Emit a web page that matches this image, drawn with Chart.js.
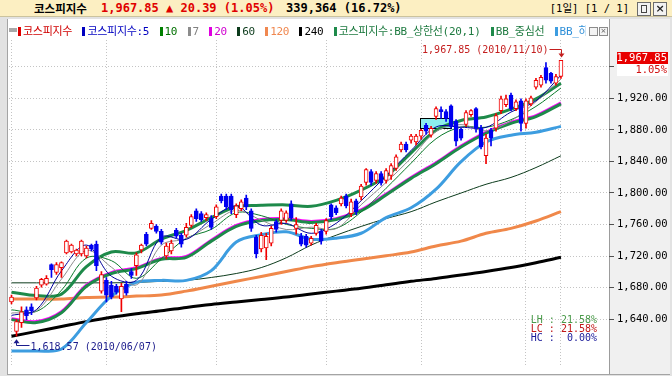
<!DOCTYPE html>
<html lang="ko">
<head>
<meta charset="utf-8">
<title>코스피지수</title>
<script src="https://cdn.jsdelivr.net/npm/chart.js@4.4.1/dist/chart.umd.min.js"></script>
<style>
  html, body { margin: 0; padding: 0; }
  body { width: 672px; height: 376px; position: relative; overflow: hidden; background: #e2e2e2; font-family: "Noto Sans CJK KR", sans-serif; }
  .abs { position: absolute; }
  #titlebar { left: 0; top: 0; width: 672px; height: 16px; background: #fcefc2; border-bottom: 1px solid #cbc39e; }
  #titlebar .t { position: absolute; top: 0; line-height: 16px; white-space: nowrap; }
  .mono { font-family: "DejaVu Sans Mono", monospace; }
  #panel { left: 7px; top: 19px; width: 602px; height: 355px; background: #fff; border-left: 1px solid #a4a4a4; box-sizing: border-box; }
  #axispanel { left: 609px; top: 19px; width: 61px; height: 355px; background: #f0f0f0; border-left: 1px solid #9c9c9c; box-sizing: border-box; }
  #bottomline { left: 7px; top: 374px; width: 663px; height: 1px; background: #a4a4a4; }
  #chart { left: 0; top: 0; }
  #legend { left: 18px; top: 24px; width: 568px; height: 15px; overflow: hidden; white-space: nowrap; font-size: 11px; line-height: 15px; font-family: "DejaVu Sans Mono", "Noto Sans CJK KR", monospace; letter-spacing: -0.3px; }
  #legend span { margin-right: 4px; }
  #legend i { display: inline-block; width: 3px; height: 9px; margin-right: 2px; vertical-align: -1px; }
  #handle { left: 9px; top: 28px; width: 8px; height: 4px; background: #a8a8a8; }
  .ico { width: 7px; height: 7px; border: 1px solid #8c8c8c; background: #f4f4f4; }
  .btn { position: absolute; top: 2px; width: 12px; height: 12px; border: 1px solid #6c6c6c; background: #f2f2f2; z-index: 2; }
</style>
</head>
<body>
<div id="titlebar" class="abs">
  <span class="t" style="left:34px;font-size:11.5px;font-weight:bold;color:#000;">코스피지수</span>
  <span class="t mono" style="left:101px;font-size:12px;font-weight:bold;color:#e00000;">1,967.85 ▲ 20.39 (1.05%)</span>
  <span class="t mono" style="left:286px;font-size:12px;font-weight:bold;color:#000;">339,364 (16.72%)</span>
  <span class="t mono" style="right:43px;font-size:10.5px;color:#000;">[1<span style="font-family:'Noto Sans CJK KR';">일</span>] [1 / 1]</span>
  <div class="btn" style="left:637px;"><div class="abs" style="left:3px;top:2px;width:4px;height:6px;border:1px solid #444;"></div></div>
  <div class="btn" style="left:653px;font:bold 11px 'DejaVu Sans';line-height:12px;text-align:center;color:#222;">×</div>
</div>
<div id="panel" class="abs"></div>
<div id="axispanel" class="abs"></div>
<div id="bottomline" class="abs"></div>
<canvas id="chart" class="abs" width="672" height="376"></canvas>
<div id="handle" class="abs"></div>
<div id="legend" class="abs">
  <span><i style="background:#e00000"></i><b style="font-weight:normal;color:#d00000">코스피지수</b></span>
  <span><i style="background:#0000c0"></i><b style="font-weight:normal;color:#0000c0">코스피지수:5</b></span>
  <span><i style="background:#008000"></i><b style="font-weight:normal;color:#007000">10</b></span>
  <span><i style="background:#8c8c8c"></i><b style="font-weight:normal;color:#808080">7</b></span>
  <span><i style="background:#e000e0"></i><b style="font-weight:normal;color:#d000d0">20</b></span>
  <span><i style="background:#0c3b1c"></i><b style="font-weight:normal;color:#0c3b1c">60</b></span>
  <span><i style="background:#f08850"></i><b style="font-weight:normal;color:#f08850">120</b></span>
  <span><i style="background:#000"></i><b style="font-weight:normal;color:#000">240</b></span>
  <span><i style="background:#1e8a4a"></i><b style="font-weight:normal;color:#1e7a40">코스피지수:BB_상한선(20,1)</b></span>
  <span><i style="background:#1e8a4a"></i><b style="font-weight:normal;color:#1e7a40">BB_중심선</b></span>
  <span><i style="background:#3d9de0"></i><b style="font-weight:normal;color:#2f8fd8">BB_하한선</b></span>
</div>
<div class="abs ico" style="left:589px;top:27px;"></div>
<div class="abs ico" style="left:599px;top:27px;font:7px 'DejaVu Sans';line-height:7px;text-align:center;color:#555;">×</div>
<script>
// daily candles, 2010/06/04 .. 2010/11/10
const opens = [1662.0, 1624.7, 1635.9, 1652.1, 1655.8, 1667.0, 1683.1, 1684.4, 1709.2, 1699.3,
  1705.5, 1724.1, 1725.3, 1722.9, 1722.9, 1720.4, 1734.0, 1735.3, 1675.7, 1689.3,
  1683.1, 1681.9, 1665.7, 1684.3, 1700.5, 1708.0, 1727.8, 1747.7, 1755.2, 1757.6,
  1751.4, 1720.4, 1726.6, 1752.7, 1746.5, 1746.5, 1758.9, 1777.5, 1773.8, 1768.8,
  1767.6, 1770.0, 1796.1, 1796.1, 1796.1, 1772.5, 1780.0, 1793.6, 1777.5, 1744.0,
  1729.1, 1730.3, 1736.5, 1763.9, 1765.1, 1765.1, 1786.2, 1755.2, 1745.2, 1745.2,
  1736.5, 1748.9, 1751.4, 1751.4, 1785.0, 1781.2, 1786.2, 1796.1, 1773.8, 1789.9,
  1794.9, 1813.5, 1827.2, 1816.0, 1824.7, 1816.0, 1822.2, 1831.0, 1854.5, 1862.0,
  1867.0, 1864.5, 1871.9, 1885.6, 1873.2, 1896.8, 1905.5, 1903.0, 1910.4, 1890.6,
  1880.6, 1886.8, 1899.2, 1906.7, 1881.9, 1847.1, 1879.4, 1881.9, 1904.2, 1911.7,
  1924.1, 1906.7, 1916.6, 1888.1, 1912.9, 1934.0, 1936.5, 1958.9, 1951.4, 1939.0, 1947.5];
const highs = [1670.7, 1639.6, 1655.8, 1655.8, 1659.5, 1681.9, 1691.8, 1695.5, 1710.4, 1711.7,
  1712.9, 1740.3, 1735.3, 1729.1, 1740.3, 1732.8, 1735.3, 1739.0, 1700.5, 1693.0,
  1688.1, 1684.3, 1685.6, 1688.1, 1704.2, 1724.1, 1735.3, 1750.2, 1765.1, 1760.1,
  1753.9, 1736.5, 1740.3, 1755.2, 1749.0, 1761.4, 1772.5, 1780.0, 1776.3, 1775.0,
  1771.3, 1785.0, 1798.6, 1798.6, 1798.6, 1786.2, 1791.2, 1797.4, 1780.0, 1746.5,
  1750.2, 1749.0, 1757.6, 1766.3, 1780.0, 1777.5, 1790.0, 1768.8, 1749.0, 1747.7,
  1745.2, 1761.4, 1753.9, 1767.6, 1786.2, 1783.7, 1796.1, 1798.6, 1792.4, 1792.4,
  1811.0, 1830.9, 1829.7, 1827.2, 1827.2, 1830.9, 1837.1, 1848.3, 1864.5, 1864.5,
  1874.4, 1874.4, 1880.6, 1888.1, 1884.3, 1909.2, 1909.2, 1905.5, 1911.7, 1893.0,
  1881.9, 1904.2, 1905.5, 1908.0, 1885.6, 1874.4, 1881.9, 1900.5, 1922.8, 1924.1,
  1926.6, 1917.9, 1919.1, 1919.1, 1922.8, 1945.2, 1949.0, 1965.0, 1952.7, 1950.2, 1967.85];
const lows = [1659.5, 1618.57, 1629.7, 1639.6, 1645.8, 1664.5, 1680.6, 1683.1, 1693.0, 1696.8,
  1693.0, 1722.9, 1724.1, 1720.4, 1720.4, 1717.9, 1726.6, 1701.7, 1673.2, 1662.0,
  1665.7, 1671.9, 1649.6, 1670.7, 1691.8, 1695.5, 1724.1, 1732.8, 1753.9, 1749.0,
  1735.3, 1716.6, 1722.9, 1742.7, 1731.5, 1744.0, 1756.4, 1763.9, 1763.9, 1765.1,
  1753.9, 1767.6, 1787.4, 1778.8, 1773.8, 1768.8, 1777.5, 1778.8, 1751.4, 1717.9,
  1725.3, 1715.4, 1732.8, 1750.2, 1760.1, 1762.6, 1765.1, 1747.7, 1732.8, 1731.5,
  1734.0, 1746.5, 1735.3, 1747.7, 1766.3, 1772.5, 1783.7, 1781.2, 1770.0, 1772.5,
  1791.2, 1809.8, 1809.8, 1812.3, 1809.8, 1812.3, 1817.2, 1828.4, 1852.1, 1852.1,
  1863.2, 1860.8, 1868.2, 1874.4, 1870.7, 1893.0, 1894.3, 1890.6, 1881.9, 1859.5,
  1866.9, 1884.3, 1896.8, 1876.9, 1855.8, 1837.1, 1859.5, 1878.1, 1900.5, 1909.2,
  1904.2, 1904.2, 1878.1, 1881.9, 1910.4, 1931.5, 1934.0, 1939.0, 1939.0, 1936.5, 1945.2];
const closes = [1668.2, 1637.1, 1649.6, 1644.6, 1650.8, 1679.4, 1690.6, 1691.8, 1703.0, 1709.2,
  1711.7, 1739.0, 1734.0, 1727.8, 1739.0, 1730.3, 1729.1, 1708.0, 1696.8, 1670.7,
  1668.2, 1674.4, 1681.9, 1673.2, 1695.5, 1721.6, 1734.0, 1735.3, 1761.4, 1751.4,
  1737.8, 1732.8, 1736.5, 1745.2, 1735.3, 1756.4, 1770.0, 1767.6, 1766.3, 1772.5,
  1756.4, 1782.5, 1789.9, 1782.5, 1778.8, 1783.7, 1788.7, 1782.5, 1755.2, 1722.9,
  1746.5, 1745.2, 1755.2, 1753.9, 1777.5, 1775.0, 1768.8, 1760.1, 1735.3, 1734.0,
  1742.7, 1758.9, 1739.0, 1765.1, 1770.0, 1775.0, 1793.6, 1783.7, 1788.7, 1776.3,
  1808.6, 1829.7, 1813.5, 1824.7, 1812.3, 1828.4, 1834.6, 1845.8, 1862.0, 1854.5,
  1871.9, 1871.9, 1879.4, 1878.1, 1881.9, 1906.7, 1903.0, 1894.3, 1884.3, 1865.7,
  1869.4, 1901.7, 1904.2, 1881.9, 1858.3, 1869.4, 1869.4, 1898.0, 1919.1, 1919.1,
  1906.7, 1915.4, 1888.1, 1916.6, 1920.4, 1942.7, 1946.5, 1942.7, 1941.5, 1947.46, 1967.85];

// indicator lines, read every 5th session
const lineIdx = [0, 5, 10, 15, 20, 25, 30, 35, 40, 45, 50, 55, 60, 65, 70, 75, 80, 85, 90, 95, 100, 105, 110];
const ma5 = [1645, 1652.3, 1701.3, 1734.0, 1694.6, 1689.3, 1744.0, 1741.2, 1766.6, 1783.5, 1759.2, 1761.4,
  1748.9, 1761.6, 1790.2, 1821.7, 1853.8, 1883.6, 1883.3, 1883.1, 1902.5, 1916.6, 1949.2];
const ma7 = [1648, 1651, 1690.9, 1727.3, 1706.0, 1683.6, 1733.9, 1742.2, 1760.6, 1778.0, 1765.5, 1753.7,
  1756.7, 1754.9, 1785.1, 1813.4, 1844.2, 1877.8, 1886.5, 1878.7, 1891.4, 1915.6, 1944.2];
const ma10 = [1652, 1650, 1676.8, 1717.6, 1714.3, 1691.9, 1716.7, 1742.6, 1753.9, 1775.0, 1771.3, 1760.3,
  1755.2, 1755.3, 1775.9, 1806.0, 1837.7, 1868.7, 1883.5, 1883.2, 1892.8, 1909.6, 1932.9];
const ma20 = [1640.8, 1637.1, 1649.5, 1683.1, 1699.2, 1705.4, 1717.2, 1719.7, 1740.2, 1758.8, 1766.3, 1767.5,
  1763.8, 1767.5, 1778.7, 1798.6, 1819.7, 1838.3, 1859.4, 1876.8, 1889.3, 1898.0, 1914.1];
const ma60 = [1686.2, 1686.2, 1686.2, 1686.2, 1686.2, 1686.8, 1688.1, 1689.3, 1693.0, 1698.0, 1705.5, 1717.9,
  1734.0, 1746.5, 1757.6, 1767.6, 1776.3, 1788.7, 1799.9, 1811.0, 1819.7, 1832.2, 1847.1];
const ma120 = [1665.7, 1665.7, 1665.7, 1667.6, 1668.2, 1669.4, 1670.7, 1675.7, 1681.9, 1688.1, 1694.3, 1700.5,
  1706.7, 1711.7, 1716.0, 1720.4, 1725.3, 1732.8, 1739.0, 1748.9, 1755.2, 1764.5, 1776.3];
const ma240 = [1618.5, 1624.7, 1630.9, 1637.1, 1642.7, 1647.1, 1650.8, 1655.1, 1658.9, 1662.0, 1665.1, 1668.2,
  1672.0, 1675.7, 1679.4, 1683.7, 1688.1, 1691.8, 1696.2, 1700.5, 1705.5, 1711.7, 1718.5];
const bbUpper = [1674.4, 1670.1, 1671.9, 1706.7, 1725.3, 1724.1, 1741.5, 1752.7, 1768.8, 1782.5, 1784.3, 1784.9,
  1783.1, 1790.6, 1803.6, 1821.0, 1850.8, 1879.4, 1891.8, 1896.2, 1906.1, 1919.1, 1939.0];
const bbMiddle = [1639.6, 1635.9, 1648.3, 1681.9, 1698.0, 1704.2, 1716.0, 1718.5, 1739.0, 1757.6, 1765.1, 1766.3,
  1762.6, 1766.3, 1777.5, 1797.4, 1818.5, 1837.1, 1858.2, 1875.6, 1888.1, 1896.8, 1912.9];
const bbLower = [1599.9, 1599.9, 1602.4, 1635.9, 1669.4, 1686.8, 1689.3, 1689.3, 1701.7, 1737.8, 1747.1, 1750.8,
  1741.5, 1742.7, 1749.0, 1768.8, 1781.2, 1804.8, 1839.6, 1864.5, 1873.2, 1876.9, 1884.3];

const yTicks = [1640, 1680, 1720, 1760, 1800, 1840, 1880, 1920, 1960];
const gridIdx = [0, 19, 41, 63, 82, 103, 110];   // first session of each month, last session
const lowDate = "2010/06/07";
const highDate = "2010/11/10";
const boxFrom = 81.8, boxTo = 87.9, boxLow = 1882.7, boxHigh = 1894.3;

const fmt = v => v.toLocaleString("en-US", { minimumFractionDigits: 2, maximumFractionDigits: 2 });
const pts = arr => lineIdx.map((x, k) => ({ x: x, y: arr[k] }));
const up = closes.map((c, i) => c >= opens[i]);
const edge = up.map(u => (u ? "#f00000" : "#0000f0"));
const fill = up.map(u => (u ? "#ffffff" : "#0000f0"));

function line(label, arr, color, width, order) {
  return { type: "line", label: label, data: pts(arr), borderColor: color, borderWidth: width,
    pointRadius: 0, tension: 0.35, fill: false, order: order };
}

const overlay = {
  id: "overlay",
  beforeDatasetsDraw(chart) {
    const { ctx, scales: { x, y } } = chart;
    const x0 = Math.round(x.getPixelForValue(boxFrom)), x1 = Math.round(x.getPixelForValue(boxTo));
    const y0 = Math.round(y.getPixelForValue(boxHigh)), y1 = Math.round(y.getPixelForValue(boxLow));
    ctx.save();
    ctx.fillStyle = "#8ceeee";
    ctx.fillRect(x0, y0, x1 - x0, y1 - y0);
    ctx.strokeStyle = "#000";
    ctx.lineWidth = 1;
    ctx.strokeRect(x0 + 0.5, y0 + 0.5, x1 - x0, y1 - y0);
    ctx.restore();
  },
  afterDraw(chart) {
    const { ctx, chartArea, scales: { x, y } } = chart;
    ctx.save();
    ctx.font = '10px "DejaVu Sans Mono"';
    ctx.textBaseline = "middle";
    ctx.lineWidth = 1;

    // period high
    const hi = Math.max(...highs), hiIdx = highs.indexOf(hi);
    const hx = Math.round(x.getPixelForValue(hiIdx)) + 0.5, hy = y.getPixelForValue(hi);
    ctx.fillStyle = "#c41e1e";
    ctx.strokeStyle = "#c41e1e";
    ctx.textAlign = "right";
    ctx.fillText(fmt(hi) + " (" + highDate + ")", hx - 13, hy - 10.5);
    ctx.beginPath();
    ctx.moveTo(hx - 12, Math.round(hy - 11) + 0.5);
    ctx.lineTo(hx, Math.round(hy - 11) + 0.5);
    ctx.lineTo(hx, hy - 6);
    ctx.stroke();
    ctx.beginPath();
    ctx.moveTo(hx - 3, hy - 7);
    ctx.lineTo(hx + 3, hy - 7);
    ctx.lineTo(hx, hy - 3);
    ctx.closePath();
    ctx.fill();

    // period low
    const lo = Math.min(...lows), loIdx = lows.indexOf(lo);
    const lx = Math.round(x.getPixelForValue(loIdx)) + 0.5, ly = y.getPixelForValue(lo);
    ctx.fillStyle = "#1c1c8c";
    ctx.strokeStyle = "#1c1c8c";
    ctx.beginPath();
    ctx.moveTo(lx, ly + 3);
    ctx.lineTo(lx - 3, ly + 7);
    ctx.lineTo(lx + 3, ly + 7);
    ctx.closePath();
    ctx.fill();
    ctx.beginPath();
    ctx.moveTo(lx, ly + 6);
    ctx.lineTo(lx, Math.round(ly + 9) + 0.5);
    ctx.lineTo(lx + 13, Math.round(ly + 9) + 0.5);
    ctx.stroke();
    ctx.textAlign = "left";
    ctx.fillText(fmt(lo) + " (" + lowDate + ")", lx + 14, ly + 11);

    // range statistics
    const last = closes[closes.length - 1];
    const pct = v => v.toFixed(2).padStart(5, " ") + "%";
    const rows = [
      ["LH : " + pct((hi / lo - 1) * 100), "#4a9a4a"],
      ["LC : " + pct((last / lo - 1) * 100), "#c01818"],
      ["HC : " + pct((hi - last) / hi * 100), "#1a1a9a"]
    ];
    ctx.textAlign = "right";
    rows.forEach((r, k) => {
      ctx.fillStyle = r[1];
      ctx.fillText(r[0], chartArea.right - 12, chartArea.bottom - 46 + k * 9);
    });

    // current price tag on the axis
    const prev = closes[closes.length - 2];
    const cy = Math.round(y.getPixelForValue(last)) - 2;
    const bx = chartArea.right + 8;
    ctx.fillStyle = "#e80000";
    ctx.fillRect(bx, cy - 6, 51, 12);
    ctx.fillStyle = "#ffffff";
    ctx.fillRect(bx, cy + 6, 51, 12);
    ctx.font = '10.5px "DejaVu Sans Mono"';
    ctx.fillText(fmt(last), bx + 50, cy + 0.5);
    ctx.fillStyle = "#d01010";
    ctx.fillText(((last - prev) / prev * 100).toFixed(2) + "%", bx + 50, cy + 12.5);
    ctx.restore();
  }
};

new Chart(document.getElementById("chart").getContext("2d"), {
  type: "bar",
  data: {
    datasets: [
      { type: "bar", label: "body", data: opens.map((o, i) => ({ x: i, y: [o, closes[i]] })),
        backgroundColor: fill, borderColor: edge, borderWidth: 1, borderSkipped: false,
        barThickness: 4, grouped: false, order: 0 },
      { type: "bar", label: "wick", data: highs.map((h, i) => ({ x: i, y: [lows[i], h] })),
        backgroundColor: edge, borderWidth: 0, barThickness: 1, grouped: false, order: 1 },
      line("MA5", ma5, "#000099", 1, 2),
      line("MA7", ma7, "#8c8c8c", 1, 3),
      line("MA10", ma10, "#0a7a2a", 1, 4),
      line("BB upper", bbUpper, "#1e8a4a", 3, 5),
      line("BB middle", bbMiddle, "#1e8a4a", 3, 6),
      line("MA20", ma20, "#ff00ff", 3, 7),
      line("BB lower", bbLower, "#3d9de0", 3, 8),
      line("MA60", ma60, "#0c3b1c", 1, 9),
      line("MA120", ma120, "#f0884a", 3, 10),
      line("MA240", ma240, "#000000", 3, 11)
    ]
  },
  options: {
    responsive: false,
    animation: false,
    layout: { padding: { left: 9, top: 40, right: 0, bottom: 3 } },
    plugins: { legend: { display: false }, tooltip: { enabled: false } },
    scales: {
      x: {
        type: "linear", min: -0.5, max: 119.62, offset: false,
        afterBuildTicks: s => { s.ticks = gridIdx.map(v => ({ value: v })); },
        afterFit: s => { s.height = 0; },
        ticks: { display: false },
        grid: { color: "#c4c4c4", drawTicks: false, offset: false },
        border: { display: false, dash: [1, 2] }
      },
      y: {
        position: "right", min: 1580, max: 1993.7,
        afterBuildTicks: s => { s.ticks = yTicks.map(v => ({ value: v })); },
        afterFit: s => { s.width = 63; },
        ticks: { color: "#000", padding: 3, font: { family: "DejaVu Sans Mono", size: 10.5 },
          callback: v => fmt(v) },
        grid: { color: "#c4c4c4", tickLength: 5, tickColor: "#505050", tickBorderDash: [], tickWidth: 1 },
        border: { display: false, dash: [1, 2] }
      }
    }
  },
  plugins: [overlay]
});
</script>
</body>
</html>
